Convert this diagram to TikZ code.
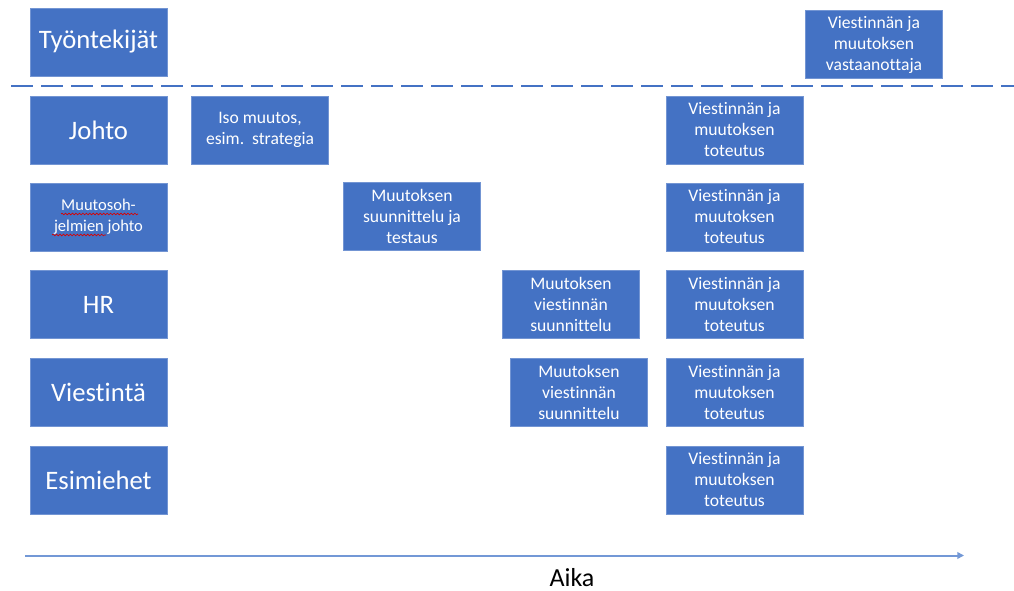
\documentclass[tikz,border=0pt]{standalone}
\usepackage{fontspec}
\setmainfont[Ligatures=NoCommon]{Carlito}
\usetikzlibrary{arrows.meta, positioning, decorations.pathmorphing}
\definecolor{obl}{HTML}{4472C4}
\definecolor{axl}{HTML}{7398D6}
\tikzset{
  box/.style   = {draw=obl!75!white, line width=0.5pt, fill=obl, text=white,
                  align=center, minimum width=102.75pt, minimum height=51pt,
                  inner sep=2pt},
  role/.style  = {box, font=\fontsize{20}{23}\selectfont},
  task/.style  = {box, font=\fontsize{13.2}{15.75}\selectfont},
  sep/.style   = {draw=obl, line width=1.5pt, dash pattern=on 16.5pt off 6pt},
  tl/.style    = {draw=axl, line width=1.5pt, -{Triangle[length=5pt,width=5pt]}},
  spell/.style = {draw=red!85!black, line width=0.5pt,
                  decorate, decoration={snake, amplitude=0.6pt, segment length=2.6pt}},
}
\begin{document}
\begin{tikzpicture}[x=0.75pt, y=-0.75pt]
  \useasboundingbox (0,0) rectangle (1014,591);
  % roles
  \node[role] (tyo)  at (98.5,42)    {Työntekijät};
  \node[role] (joh)  at (98.5,130)   {Johto};
  \node[box, font=\fontsize{12.4}{15.75}\selectfont]
              (mop)  at (98.5,217)   {Muutosoh-\\jelmien johto};
  \node[role] (hr)   at (98.5,304.5) {HR};
  \node[role] (vie)  at (98.5,392.5) {Viestintä};
  \node[role] (esi)  at (98.5,480)   {Esimiehet};
  % spell check marks
  \draw[spell] (61,214) -- (138,214);
  \draw[spell] (52,235) -- (106,235);
  % tasks
  \node[task] (iso)  at (260,130)    {Iso muutos,\\esim.\ \ strategia};
  \node[task] (suu)  at (412,216.5)  {Muutoksen\\suunnittelu ja\\testaus};
  \node[task] (vs1)  at (571,304)    {Muutoksen\\viestinnän\\suunnittelu};
  \node[task] (vs2)  at (579,392.5)  {Muutoksen\\viestinnän\\suunnittelu};
  \node[task] (tot1) at (734.5,130)   {Viestinnän ja\\muutoksen\\toteutus};
  \node[task] (tot2) at (734.5,217)   {Viestinnän ja\\muutoksen\\toteutus};
  \node[task] (tot3) at (734.5,304.5) {Viestinnän ja\\muutoksen\\toteutus};
  \node[task] (tot4) at (734.5,392.5) {Viestinnän ja\\muutoksen\\toteutus};
  \node[task] (tot5) at (734.5,480)   {Viestinnän ja\\muutoksen\\toteutus};
  \node[task] (vast) at (874,44.5)    {Viestinnän ja\\muutoksen\\vastaanottaja};
  % separator and time axis
  \coordinate (s0) at (11,86);
  \coordinate (s1) at (1014,86);
  \draw[sep] (s0) -- (s1);
  \coordinate (t0) at (25,555.5);
  \coordinate (t1) at (964,555.5);
  \draw[tl] (t0) -- (t1);
  \node[font=\fontsize{19.5}{22}\selectfont, inner sep=0pt, anchor=base] (aika) at (572,586) {Aika};
\end{tikzpicture}
\end{document}
